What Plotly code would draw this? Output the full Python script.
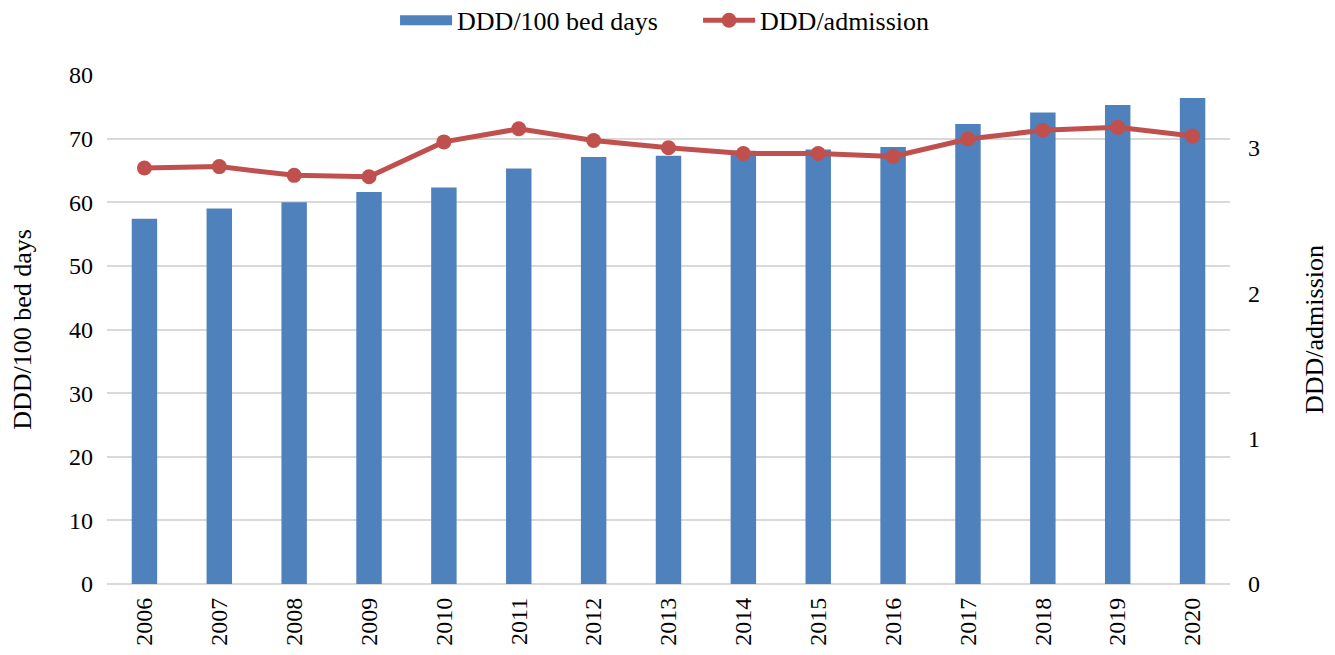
import plotly.graph_objects as go

# Data
years = [str(y) for y in range(2006, 2021)]
ddd_per_100_bed_days = [57.4, 59.0, 60.0, 61.6, 62.3, 65.3, 67.1, 67.3,
                        68.1, 68.3, 68.7, 72.3, 74.1, 75.3, 76.4]
ddd_per_admission = [2.86, 2.87, 2.81, 2.80, 3.04, 3.13, 3.05, 3.00,
                     2.96, 2.96, 2.94, 3.06, 3.12, 3.14, 3.08]

left_ticks = list(range(0, 81, 10))
right_ticks = [0, 1, 2, 3]

FONT = "Liberation Serif, Times New Roman, serif"
BAR_COLOR = "#4F81BD"
LINE_COLOR = "#C0504D"
GRID_COLOR = "#D9D9D9"

fig = go.Figure()

fig.add_trace(go.Bar(
    x=years,
    y=ddd_per_100_bed_days,
    name="DDD/100 bed days",
    marker=dict(color=BAR_COLOR, line=dict(width=0)),
    showlegend=False,
))

# legend-only entry so the bar key looks like a wide block, as in Excel
fig.add_trace(go.Scatter(
    x=[None], y=[None],
    name="DDD/100 bed days",
    mode="lines",
    line=dict(color=BAR_COLOR, width=16),
))

fig.add_trace(go.Scatter(
    x=years,
    y=ddd_per_admission,
    name="DDD/admission",
    mode="lines+markers",
    line=dict(color=LINE_COLOR, width=5),
    marker=dict(color=LINE_COLOR, size=15),
    yaxis="y2",
))

# page body has an 8px margin, so the figure is trimmed by that much
fig.update_layout(
    width=1327,
    height=647,
    paper_bgcolor="white",
    plot_bgcolor="white",
    font=dict(family=FONT, size=24, color="black"),
    margin=dict(l=99, r=105, t=67, b=71),
    bargap=0.66,
    showlegend=True,
    legend=dict(
        orientation="h",
        x=0.2565, xanchor="left",
        xref="paper",
        y=0.981, yanchor="middle",
        yref="container",
        font=dict(size=26),
        itemwidth=52,
        entrywidth=236,
        entrywidthmode="pixels",
        traceorder="normal",
    ),
    xaxis=dict(
        type="category",
        range=[-0.5, len(years) - 0.5],
        tickangle=-90,
        showgrid=False,
        showline=False,
        ticks="",
        ticklabelstandoff=8,
        tickfont=dict(size=24),
        automargin=False,
    ),
    yaxis=dict(
        title=dict(text="DDD/100 bed days", font=dict(size=26), standoff=31),
        range=[0, 80],
        tickvals=left_ticks,
        showgrid=True,
        gridcolor=GRID_COLOR,
        gridwidth=2,
        zeroline=True,
        zerolinecolor=GRID_COLOR,
        zerolinewidth=2,
        ticks="",
        ticklabelstandoff=13,
        tickfont=dict(size=24),
        automargin=False,
    ),
    yaxis2=dict(
        title=dict(text="DDD/admission", font=dict(size=26), standoff=45),
        overlaying="y",
        side="right",
        range=[0, 3.5],
        tickvals=right_ticks,
        showgrid=False,
        zeroline=False,
        ticks="",
        ticklabelstandoff=17,
        tickfont=dict(size=24),
        automargin=False,
    ),
)

fig.write_html("out.html")
